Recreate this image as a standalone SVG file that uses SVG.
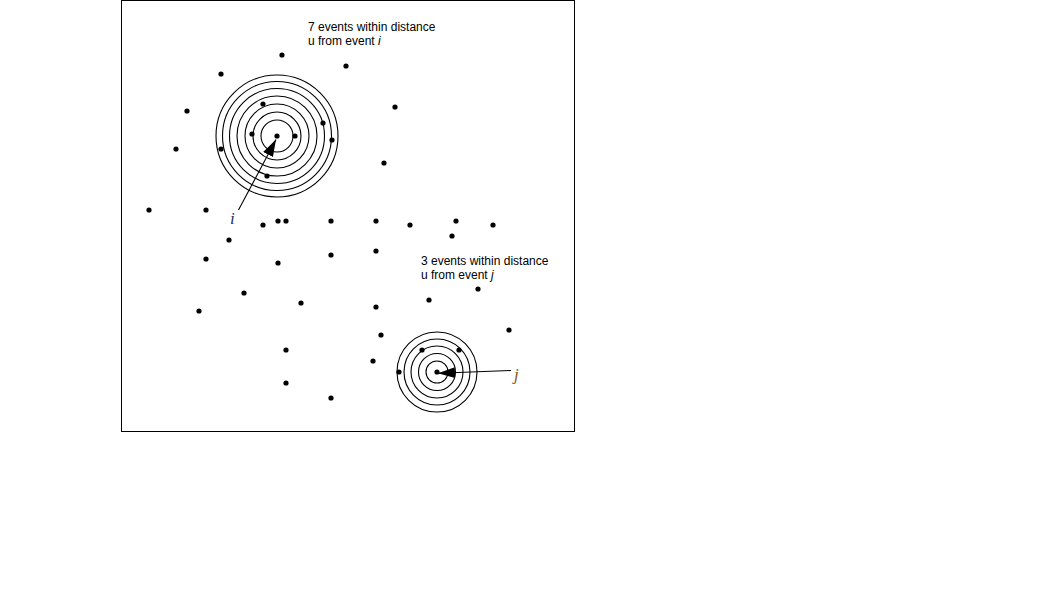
<svg xmlns="http://www.w3.org/2000/svg" width="1058" height="595" viewBox="0 0 1058 595">
<style>
.ring{fill:none;stroke:#000;stroke-width:1.1}
.dot{fill:#000}
.lbl{font-family:"Liberation Sans",Arial,sans-serif;font-size:12px;fill:#000}
.it{font-style:italic}
.ser{font-family:"Liberation Serif","Times New Roman",serif;font-style:italic;font-size:17px}
.conn{stroke:#000;stroke-width:1.1;fill:none}
</style>
<defs>
<marker id="ah" markerUnits="userSpaceOnUse" markerWidth="18" markerHeight="12" refX="17" refY="5.5" orient="auto">
<path d="M0,0 L17,5.5 L0,11 z" fill="#000"/>
</marker>
</defs>
<rect width="1058" height="595" fill="#fff"/>
<rect x="121.5" y="0.5" width="453" height="431" fill="none" stroke="#000" stroke-width="1"/>
<g id="circle-i">
<circle class="ring" cx="277" cy="136" r="16"/>
<circle class="ring" cx="277" cy="136" r="24"/>
<circle class="ring" cx="277" cy="136" r="32"/>
<circle class="ring" cx="277" cy="136" r="40"/>
<circle class="ring" cx="277" cy="136" r="47.5"/>
<circle class="ring" cx="277" cy="136" r="54.5"/>
<circle class="ring" cx="277" cy="136" r="61"/>
</g>
<g id="circle-j">
<circle class="ring" cx="437" cy="372" r="11"/>
<circle class="ring" cx="437" cy="372" r="18.5"/>
<circle class="ring" cx="437" cy="372" r="26"/>
<circle class="ring" cx="437" cy="372" r="33"/>
<circle class="ring" cx="437" cy="372" r="40"/>
</g>
<g id="events">
<circle class="dot" cx="282" cy="55" r="2.6"/>
<circle class="dot" cx="346" cy="66" r="2.6"/>
<circle class="dot" cx="221" cy="74" r="2.6"/>
<circle class="dot" cx="187" cy="111" r="2.6"/>
<circle class="dot" cx="395" cy="107" r="2.6"/>
<circle class="dot" cx="263" cy="104" r="2.6"/>
<circle class="dot" cx="323" cy="123" r="2.6"/>
<circle class="dot" cx="252" cy="134" r="2.6"/>
<circle class="dot" cx="277" cy="136" r="2.6"/>
<circle class="dot" cx="295" cy="136" r="2.6"/>
<circle class="dot" cx="332" cy="140" r="2.6"/>
<circle class="dot" cx="176" cy="149" r="2.6"/>
<circle class="dot" cx="221" cy="149" r="2.6"/>
<circle class="dot" cx="384" cy="163" r="2.6"/>
<circle class="dot" cx="267" cy="176" r="2.6"/>
<circle class="dot" cx="149" cy="210" r="2.6"/>
<circle class="dot" cx="206" cy="210" r="2.6"/>
<circle class="dot" cx="263" cy="225" r="2.6"/>
<circle class="dot" cx="278" cy="221" r="2.6"/>
<circle class="dot" cx="286" cy="221" r="2.6"/>
<circle class="dot" cx="331" cy="221" r="2.6"/>
<circle class="dot" cx="376" cy="221" r="2.6"/>
<circle class="dot" cx="410" cy="225" r="2.6"/>
<circle class="dot" cx="456" cy="221" r="2.6"/>
<circle class="dot" cx="493" cy="225" r="2.6"/>
<circle class="dot" cx="452" cy="236" r="2.6"/>
<circle class="dot" cx="229" cy="240" r="2.6"/>
<circle class="dot" cx="376" cy="251" r="2.6"/>
<circle class="dot" cx="331" cy="255" r="2.6"/>
<circle class="dot" cx="206" cy="259" r="2.6"/>
<circle class="dot" cx="278" cy="263" r="2.6"/>
<circle class="dot" cx="478" cy="289" r="2.6"/>
<circle class="dot" cx="244" cy="293" r="2.6"/>
<circle class="dot" cx="429" cy="300" r="2.6"/>
<circle class="dot" cx="301" cy="303" r="2.6"/>
<circle class="dot" cx="199" cy="311" r="2.6"/>
<circle class="dot" cx="376" cy="307" r="2.6"/>
<circle class="dot" cx="509" cy="330" r="2.6"/>
<circle class="dot" cx="381" cy="335" r="2.6"/>
<circle class="dot" cx="286" cy="350" r="2.6"/>
<circle class="dot" cx="422" cy="350" r="2.6"/>
<circle class="dot" cx="459" cy="350" r="2.6"/>
<circle class="dot" cx="373" cy="361" r="2.6"/>
<circle class="dot" cx="399" cy="372" r="2.6"/>
<circle class="dot" cx="437" cy="372" r="2.6"/>
<circle class="dot" cx="286" cy="383" r="2.6"/>
<circle class="dot" cx="331" cy="398" r="2.6"/>
</g>
<g id="connectors">
<line class="conn" x1="238.5" y1="210" x2="276" y2="139.5" marker-end="url(#ah)"/>
<line class="conn" x1="511" y1="370.5" x2="438" y2="373.3" marker-end="url(#ah)"/>
</g>
<g id="label-i">
<text class="lbl" x="308" y="31">7 events within distance</text>
<text class="lbl" x="308" y="45">u from event <tspan class="it">i</tspan></text>
<text class="ser" x="230" y="224" fill="#1f2f6a">i</text>
</g>
<g id="label-j">
<text class="lbl" x="421" y="265">3 events within distance</text>
<text class="lbl" x="421" y="279">u from event <tspan class="it">j</tspan></text>
<text class="ser" x="514" y="380" fill="#7a5a1a">j</text>
</g>
</svg>
